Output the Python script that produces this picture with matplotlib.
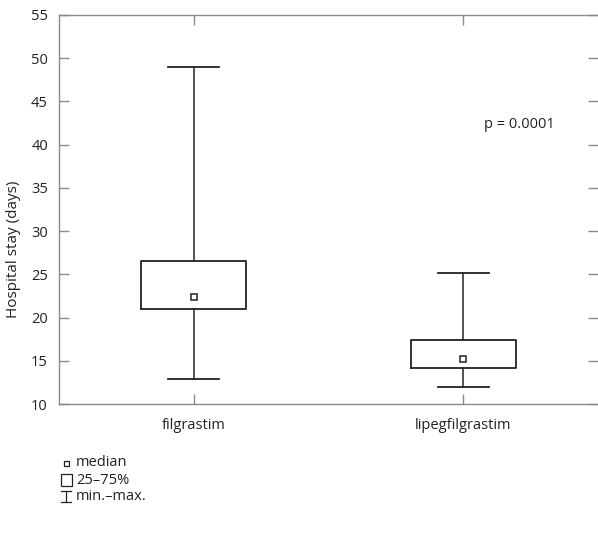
import matplotlib.pyplot as plt
from matplotlib.lines import Line2D
from matplotlib.patches import Rectangle

plt.rcParams['font.family'] = ['Open Sans', 'DejaVu Sans']

groups = ['filgrastim', 'lipegfilgrastim']
mins = [12.9, 12]
q1 = [21, 14.2]
medians = [22.4, 15.2]
q3 = [26.5, 17.4]
maxs = [49, 25.1]
p_text = 'p = 0.0001'
ylabel = 'Hospital stay (days)'
legend_labels = ['median', '25–75%', 'min.–max.']

fs = 10.5
fig = plt.figure(figsize=(5.98, 5.34), dpi=100)
ax = fig.add_axes([59/598, 1 - 404/534, 1 - 59/598, (404 - 15)/534])

stats = []
for i in range(len(groups)):
    stats.append(dict(label=groups[i], whislo=mins[i], q1=q1[i], med=medians[i],
                      q3=q3[i], whishi=maxs[i], mean=medians[i]))

ax.bxp(stats, positions=[1, 2], widths=0.39, capwidths=0.19, showmeans=True,
       showfliers=False,
       boxprops=dict(color='#222222', linewidth=1.3),
       whiskerprops=dict(color='#222222', linewidth=1.1),
       capprops=dict(color='#222222', linewidth=1.3),
       medianprops=dict(linewidth=0),
       meanprops=dict(marker='s', markerfacecolor='white', markeredgecolor='#222222',
                      markersize=5, markeredgewidth=1.1))

ax.set_xlim(0.5, 2.5)
ax.set_ylim(10, 55)
ax.set_yticks(range(10, 56, 5))
ax.set_ylabel(ylabel, fontsize=fs + 0.5, color='#222222')
ax.yaxis.set_label_coords(-0.07, 0.398)

for s in ['left', 'top', 'bottom']:
    ax.spines[s].set_color('#8a8a8a')
    ax.spines[s].set_linewidth(1.0)
ax.spines['right'].set_visible(False)
ax.tick_params(direction='in', length=7.5, color='#8a8a8a', width=1.0,
               labelsize=fs, labelcolor='#222222', top=True, right=True)
ax.tick_params(axis='y', pad=8)
ax.tick_params(axis='x', pad=10)

ax.text(2.21, 42.3, p_text, fontsize=fs, color='#222222', ha='center', va='center')

# legend below the chart
fig.add_artist(Rectangle((64/598, 1 - 466/534), 5/598, 5/534, transform=fig.transFigure,
                         facecolor='white', edgecolor='#222222', linewidth=0.9))
fig.add_artist(Rectangle((61/598, 1 - 486/534), 11/598, 12/534, transform=fig.transFigure,
                         facecolor='white', edgecolor='#222222', linewidth=0.9))
for xs, ys in [((66, 66), (491, 502)), ((61, 71), (491, 491)), ((61, 71), (502, 502))]:
    fig.add_artist(Line2D([x/598 for x in xs], [1 - y/534 for y in ys],
                          transform=fig.transFigure, color='#222222', linewidth=0.9))
for lbl, y in zip(legend_labels, [463, 480, 496]):
    fig.text(76/598, 1 - y/534, lbl, fontsize=fs, color='#222222', va='center', ha='left')

fig.savefig('out.png', dpi=100)
